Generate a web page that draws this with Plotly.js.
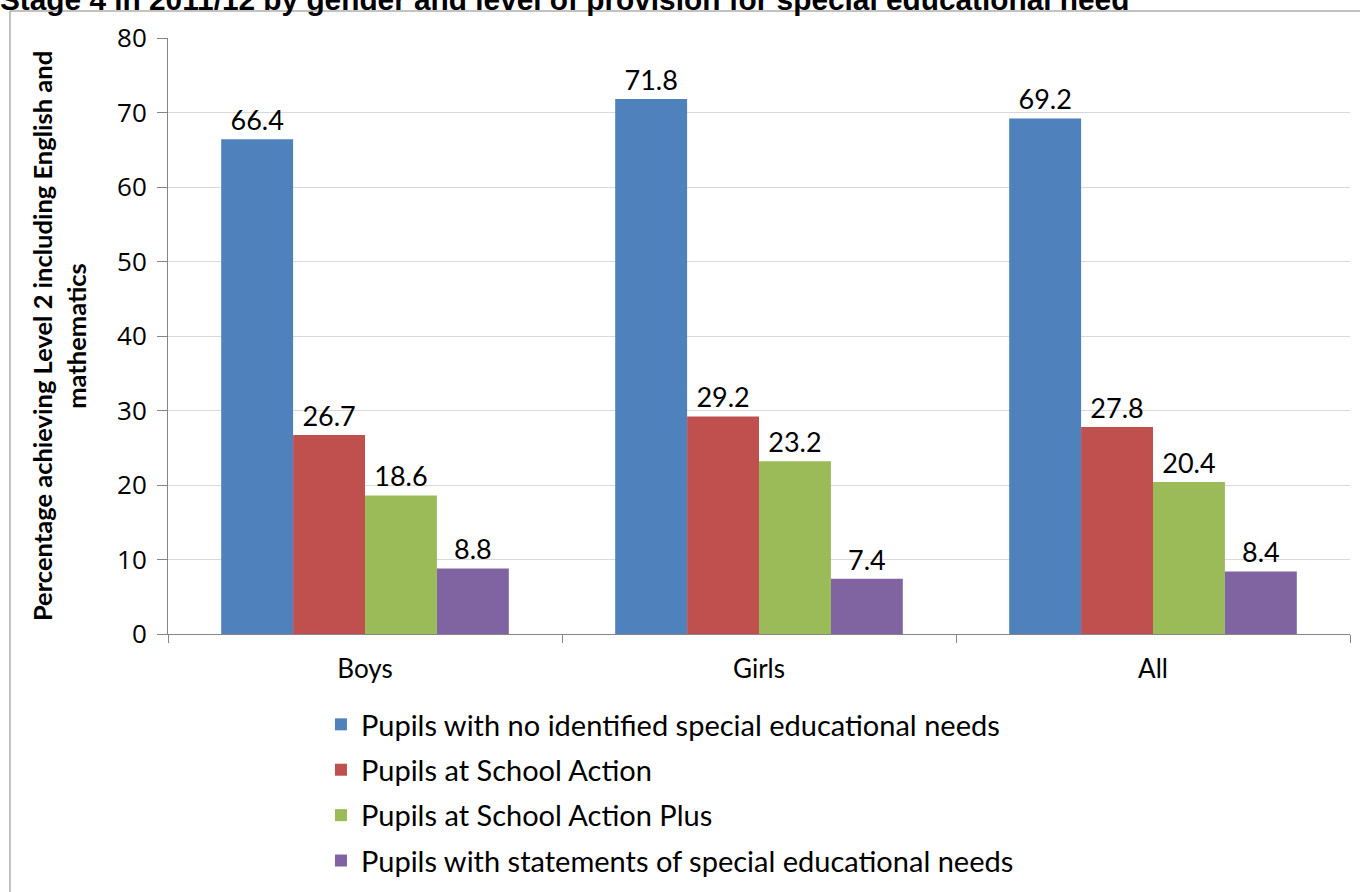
<!DOCTYPE html>
<html>
<head>
<meta charset="utf-8">
<script src="https://cdn.plot.ly/plotly-3.0.1.min.js"></script>
<style>html,body{margin:0;padding:0;background:#fff;}#chart{width:1360px;height:892px;}</style>
</head>
<body>
<div id="chart"></div>
<script>
const categories = ["Boys", "Girls", "All"];
const seriesNames = [
  "Pupils with no identified special educational needs",
  "Pupils at School Action",
  "Pupils at School Action Plus",
  "Pupils with statements of special educational needs"
];
const noSEN = [66.4, 71.8, 69.2];
const schoolAction = [26.7, 29.2, 27.8];
const schoolActionPlus = [18.6, 23.2, 20.4];
const statements = [8.8, 7.4, 8.4];
const yTicks = [0, 10, 20, 30, 40, 50, 60, 70, 80];
const colors = ["#4F81BD", "#C0504D", "#9BBB59", "#8064A2"];
const allSeries = [noSEN, schoolAction, schoolActionPlus, statements];

const labelFont = "Lato, 'Open Sans', sans-serif";

const traces = allSeries.map((vals, i) => ({
  type: "bar",
  name: seriesNames[i],
  x: categories,
  y: vals,
  marker: {color: colors[i]},
  text: vals.map(v => v.toFixed(1)),
  textposition: "outside",
  textfont: {family: labelFont, size: 27, color: "#000"},
  cliponaxis: false,
  legendgroup: "g" + i,
  hoverinfo: "x+y+name"
}));

const layout = {
  width: 1360,
  height: 892,
  paper_bgcolor: "#fff",
  plot_bgcolor: "#fff",
  margin: {l: 168, r: 10, t: 38, b: 258, autoexpand: false},
  barmode: "group",
  bargap: 0.27,
  bargroupgap: 0,
  showlegend: true,
  title: {
    text: "<b>Stage 4 in 2011/12 by gender and level of provision for special educational need</b>",
    font: {family: "'Liberation Sans', Arial, sans-serif", size: 29.8, color: "#000"},
    xref: "container", yref: "container",
    x: 0, xanchor: "left",
    y: 1.0, yanchor: "middle"
  },
  xaxis: {
    type: "category",
    tickson: "boundaries",
    ticks: "outside",
    ticklen: 8,
    tickcolor: "#868686",
    showline: true,
    linecolor: "#868686",
    linewidth: 1,
    tickfont: {family: labelFont, size: 26, color: "#000"},
    ticklabelstandoff: 12,
    showgrid: false,
    zeroline: false
  },
  yaxis: {
    range: [0, 80],
    tickvals: yTicks,
    ticktext: yTicks.map(String),
    ticks: "outside",
    ticklen: 10,
    tickcolor: "#868686",
    showline: true,
    linecolor: "#868686",
    linewidth: 1,
    showgrid: true,
    gridcolor: "#d9d9d9",
    gridwidth: 1,
    zeroline: false,
    tickfont: {family: "'Open Sans', sans-serif", size: 26, color: "#000"},
    ticklabelstandoff: 5,
    title: {
      text: "<b>Percentage achieving Level 2 including English and<br>mathematics</b>",
      font: {family: labelFont, size: 25.5, color: "#000"},
      standoff: 23
    }
  },
  legend: {
    orientation: "v",
    xref: "paper", yref: "container",
    x: 0.1294, xanchor: "left",
    y: 0.2164, yanchor: "top",
    font: {family: labelFont, size: 29, color: "#000"},
    tracegroupgap: 4.7,
    bgcolor: "rgba(0,0,0,0)"
  },
  shapes: [{
    type: "rect", xref: "paper", yref: "paper",
    x0: -0.1337, x1: 1.02, y0: -0.6, y1: 1.0453,
    line: {color: "#868686", width: 1},
    fillcolor: "rgba(0,0,0,0)",
    layer: "below"
  }],
  font: {family: labelFont}
};

Plotly.newPlot("chart", traces, layout, {displayModeBar: false, staticPlot: true});
</script>
</body>
</html>
